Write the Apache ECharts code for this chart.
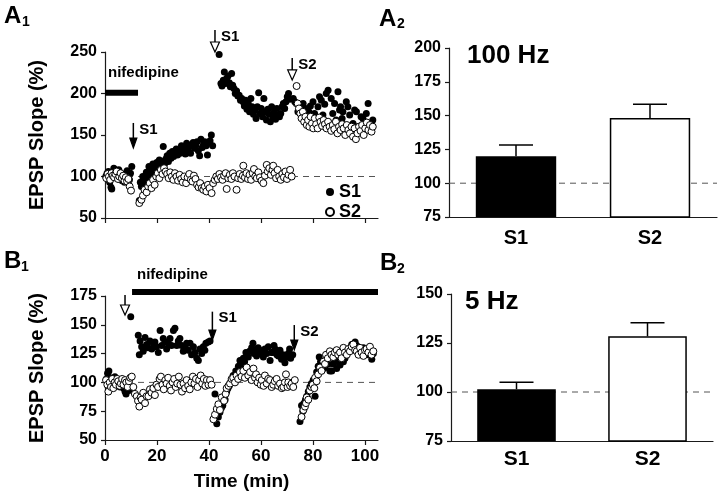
<!DOCTYPE html>
<html><head><meta charset="utf-8">
<script src="https://cdn.jsdelivr.net/npm/echarts@6.0.0/dist/echarts.min.js"></script>
<style>html,body{margin:0;padding:0;background:#fff}#c{width:720px;height:499px}</style>
</head><body><div id="c"></div>
<script>
const FONT = '"Liberation Sans", Arial, Helvetica, sans-serif';

// ---- A1: 100 Hz time course (time min, EPSP slope %) ----
const a1S1 = [
[0.3,100],[0.8,104],[1.3,106],[1.8,93],[2.3,87],[2.6,85],[3.0,99],[3.4,110],[3.8,108],[4.3,103],[4.8,100],[5.3,108],[5.7,97],[6.2,102],[6.6,95],[7.1,99],[7.5,93],[8.0,101],[8.5,107],[8.9,100],[9.4,96],[9.8,104],[10.3,112],
[13.2,71],[13.6,93],[14.0,88],[14.5,100],[15.0,95],[15.4,92],[15.9,105],[16.4,98],[16.9,112],[17.4,104],[17.9,107],[18.4,115],[18.9,110],[19.4,104],[19.9,117],[20.4,112],[20.9,120],[21.5,110],[22.0,118],[22.4,136],[22.9,115],[23.4,121],[23.9,125],[24.4,118],[24.9,128],[25.4,122],[25.9,130],[26.4,124],[26.9,127],[27.4,133],[27.9,126],[28.4,131],[28.9,128],[29.4,137],[29.9,130],[30.4,134],[30.9,127],[31.4,140],[31.9,133],[32.4,136],[32.9,128],[33.4,138],[33.9,141],[34.4,134],[34.9,137],[35.4,142],[35.9,131],[36.4,125],[36.9,145],[37.4,135],[37.9,139],[38.4,142],[38.9,137],[39.4,126],[39.9,140],[40.4,143],[40.9,150],[41.4,137],
[43.9,247],[44.6,212],[45.0,209],[45.5,216],[45.9,226],[46.4,212],[46.8,218],[47.3,221],[47.8,213],[48.2,208],[48.7,224],[49.1,210],[49.6,206],[50.1,200],[50.6,203],[51.1,197],[51.6,198],[52.1,192],[52.6,194],[53.1,190],[53.6,185],[54.1,192],[54.6,181],[55.1,188],[55.6,178],[56.1,194],[56.6,184],[57.1,175],[57.6,180],[58.1,170],[58.6,184],[59.1,201],[59.6,176],[60.1,182],[60.6,172],[61.1,194],[61.6,178],[62.1,168],[62.6,181],[63.1,175],[63.6,166],[64.1,184],[64.6,172],[65.1,178],[65.6,169],[66.1,182],[66.6,174],[67.1,172],[67.6,176],[68.1,184],[68.6,188],[69.1,182],[69.6,190],[70.1,196],[70.6,200],[71.1,193],
[72.4,194],[73.0,190],[73.6,188],[74.2,178],[74.9,186],[75.5,180],[76.2,188],[76.8,176],[77.2,182],[77.8,172],[78.4,178],[79.0,185],[79.4,168],[80.0,190],[80.6,176],[81.3,168],[81.9,184],[82.5,196],[83.2,192],[83.8,174],[84.5,187],[85.1,200],[85.8,204],[86.4,164],[87.0,194],[87.6,176],[88.3,188],[88.9,168],[89.6,202],[90.2,180],[90.6,184],[91.2,170],[91.5,178],[92.2,162],[92.8,190],[93.4,184],[94.1,174],[94.7,158],[95.4,164],[96.0,180],[96.7,178],[97.3,160],[97.9,158],[98.5,172],[99.2,170],[99.9,162],[100.5,176],[101.2,188],[101.8,158],[102.5,162],[103.0,168]
];
const a1S2 = [
[0.5,98],[1.0,103],[1.5,100],[2.0,96],[2.5,104],[3.0,101],[3.5,99],[4.0,103],[4.5,106],[5.0,97],[5.5,100],[6.0,104],[6.5,98],[7.0,101],[7.5,95],[8.0,99],[8.5,94],[9.0,97],[9.5,88],[10.0,83],
[13.2,68],[14.0,72],[14.6,77],[15.2,84],[16.0,81],[16.6,88],[17.2,92],[17.9,86],[18.5,96],[19.1,90],[19.7,100],[20.3,104],[20.9,98],[21.5,108],[22.1,103],[22.7,110],[23.3,106],[23.9,103],[24.5,98],[25.1,105],[25.7,100],[26.3,96],[26.9,104],[27.5,100],[28.1,95],[28.7,102],[29.3,97],[29.9,93],[30.5,100],[31.2,92],[31.8,99],[32.4,103],[33.0,96],[33.6,94],[34.2,101],[34.8,97],[35.4,90],[36.0,87],[36.6,92],[37.2,86],[37.8,84],[38.4,88],[39.0,82],[39.6,90],[40.2,86],[41.0,80],[41.6,92],[42.2,96],[42.8,100],[43.4,97],[44.0,103],[44.6,99],[45.2,96],[45.8,101],[46.4,104],[46.8,85],[47.4,98],[48.0,102],[48.6,97],[49.2,104],[49.8,100],[50.6,84],[51.2,98],[51.8,103],[52.4,97],[53.0,101],[53.2,113],[53.8,99],[54.4,104],[55.0,97],[55.6,102],[56.2,96],[56.8,104],[57.3,109],[57.8,100],[58.4,98],[59.0,105],[59.6,99],[60.2,95],[60.9,92],[61.5,101],[62.2,114],[62.6,106],[63.2,110],[63.8,102],[64.4,108],[64.7,113],[65.2,104],[65.8,98],[66.4,108],[67.0,100],[67.6,96],[68.2,103],[68.8,99],[69.4,106],[70.0,97],[70.6,102],[71.2,108],[71.8,100],
[73.7,209],[74.1,188],[74.6,182],[75.1,176],[75.6,170],[76.1,178],[76.6,166],[77.1,172],[77.6,162],[78.1,168],[78.6,160],[79.1,172],[79.6,164],[80.1,158],[80.7,170],[81.2,163],[81.8,158],[82.4,171],[82.9,166],[83.5,161],[84.1,168],[84.6,163],[85.2,158],[85.8,166],[86.4,160],[87.0,155],[87.6,162],[88.2,157],[88.8,166],[89.4,152],[90.0,160],[90.6,156],[91.2,163],[91.8,158],[92.4,150],[93.0,162],[93.6,156],[94.2,152],[94.8,160],[95.4,148],[96.0,158],[96.5,145],[97.1,152],[97.7,160],[98.3,155],[98.9,162],[99.5,150],[100.1,158],[100.7,165],[101.3,156],[101.9,162],[102.5,154],[103.0,160]
];

// ---- B1: 5 Hz time course ----
const b1S1 = [
[0.5,103],[1.0,108],[1.5,110],[2.0,104],[2.5,99],[2.9,98],[3.3,102],[3.8,105],[4.3,97],[4.8,100],[5.2,99],[5.8,96],[6.3,100],[6.8,97],[7.2,95],[7.7,92],[8.1,90],[8.6,96],[9.2,93],
[9.9,157],
[12.8,141],[13.2,124],[13.5,136],[14.1,131],[14.7,127],[15.4,139],[16.0,133],[16.6,130],[17.3,136],[18.0,129],[18.6,134],[19.2,135],[19.8,131],[20.5,126],[21.2,145],[21.8,132],[22.4,138],[23.1,135],[23.7,129],[24.3,134],[25.0,138],[25.6,132],[26.3,145],[26.9,147],[27.6,132],[28.2,136],[28.8,138],[29.5,132],[30.1,127],[30.8,130],[31.4,134],[32.0,128],[32.7,134],[33.3,124],[34.0,131],[34.6,126],[35.3,121],[35.9,119],[36.5,129],[37.2,125],[37.8,131],[38.4,128],[38.8,134],[39.7,135],[40.4,136],
[42.3,90],[43.0,64],[43.6,70],[44.2,74],[44.8,78],[45.3,80],[45.8,86],[46.2,85],[46.8,92],[47.3,95],[47.8,97],[48.3,100],[48.7,102],[49.3,106],[49.8,104],[50.3,110],[50.6,109],[51.3,114],[51.9,119],[52.5,116],[53.2,121],[53.7,118],[54.2,126],[54.7,123],[55.1,122],[55.6,127],[56.4,130],[56.9,134],[57.3,125],[57.8,128],[58.3,123],[58.9,130],[59.6,128],[60.2,125],[60.9,122],[61.5,129],[62.2,125],[62.8,131],[63.5,119],[64.0,126],[64.5,126],[65.0,132],[65.4,129],[66.1,124],[66.7,123],[67.3,128],[67.9,120],[68.5,124],[69.2,117],[69.8,122],[70.5,125],[71.0,129],[71.4,121],[72.2,124],
[75.0,66],[75.6,80],[76.1,75],[76.5,82],[77.1,85],[77.6,88],[78.2,92],[78.8,96],[79.4,99],[80.1,102],[80.8,88],[81.4,109],[82.0,114],[82.4,122],[82.9,118],[83.3,115],[84.0,112],[84.6,113],[85.2,117],[85.9,116],[86.5,110],[87.2,110],[87.8,116],[88.4,118],[89.1,112],[89.7,119],[90.4,115],[91.0,124],[91.7,118],[92.3,121],[92.9,126],[93.6,127],[94.2,129],[94.9,133],[95.5,129],[96.2,135],[96.8,132],[97.4,130],[98.1,128],[98.7,126],[99.4,130],[100.0,125],[100.6,129],[101.3,124],[101.9,127],[102.6,120],[103.2,125]
];
const b1S2 = [
[0.4,102],[0.9,98],[1.3,92],[1.8,100],[2.3,96],[2.8,103],[3.2,95],[3.7,100],[4.2,98],[4.7,103],[5.1,101],[5.6,97],[6.1,99],[6.6,103],[7.1,98],[7.7,102],[8.2,100],[8.7,96],[9.2,101],[9.7,104],[10.3,105],[10.9,96],
[11.5,90],[12.2,88],[12.7,84],[13.2,79],[13.7,87],[14.1,85],[14.7,91],[15.4,82],[16.0,88],[16.7,88],[17.3,94],[17.9,91],[18.6,95],[19.2,89],[19.8,98],
[20.4,96],[21.0,103],[21.5,105],[22.1,98],[22.6,94],[23.2,102],[23.7,99],[24.3,104],[24.9,97],[25.4,93],[26.0,100],[26.6,103],[27.2,96],[27.8,99],[28.4,105],[29.0,98],[29.6,92],[30.2,99],[30.8,95],[31.4,102],[32.0,97],[32.6,94],[33.2,100],[33.8,105],[34.4,99],[35.0,103],[35.6,96],[36.2,102],[36.8,106],[37.4,99],[38.0,103],[38.6,97],[39.2,102],[39.8,98],[40.4,102],[41.0,98],
[41.7,68],[42.3,72],[43.0,77],[43.6,81],[44.2,76],[44.9,87],[45.8,84],[46.4,90],[46.8,95],[47.5,97],[48.1,99],[48.7,103],[49.3,104],[50.0,100],[50.6,106],[51.2,103],[51.9,109],[52.5,105],[53.2,110],[53.8,104],[54.5,113],[55.1,106],[55.8,109],[56.4,102],[57.1,112],[57.7,104],[58.1,107],[58.7,100],[59.3,104],[59.9,98],[60.3,102],[61.0,97],[61.5,106],[62.2,99],[62.8,103],[63.5,102],[64.1,96],[64.7,98],[65.3,101],[66.0,103],[66.6,97],[67.3,99],[68.0,95],[68.6,96],[69.2,100],[69.6,107],[70.2,96],[70.5,100],[71.2,97],[71.8,99],[72.4,96],[73.0,102],
[75.6,70],[76.3,76],[76.9,79],[77.3,82],[77.6,87],[78.2,85],[78.8,93],[79.4,96],[79.9,98],[80.5,95],[80.8,104],[81.4,101],[82.0,107],[82.7,113],[83.3,110],[84.0,118],[84.6,116],[85.0,124],[85.7,121],[86.5,127],[87.1,124],[87.8,122],[88.4,126],[89.1,128],[89.7,124],[90.4,126],[91.0,121],[91.7,130],[92.3,126],[93.0,124],[93.6,129],[94.2,127],[94.9,131],[95.5,133],[96.2,128],[96.8,127],[97.5,124],[98.1,130],[98.7,126],[99.4,123],[100.0,128],[100.6,129],[101.3,126],[101.9,131],[102.5,124],[103.2,127]
];

// nifedipine application bars [time, level]
const a1Nif = [[0,201],[12.7,201]];
const b1Nif = [[10.4,178.5],[105,178.5]];

// stimulus arrows: [time, arrow top, arrow tip, filled(1)/open(0)]
const a1Arrows = [[10.9,164.5,134.3,1],[42.3,276.5,250,0],[72,242.8,216.3,0]];
const a1ArrowLabels = ['S1','S1','S2'];
const b1Arrows = [[7.7,175.9,158.5,0],[41.3,161.4,136.8,1],[72.8,149.8,128.1,1]];
const b1ArrowLabels = ['','S1','S2'];

// ---- summary bars ----
const barCats = ['S1','S2'];
const a2Means = [120, 148.2];
const a2ErrTop = [128.3, 158.4];
const b2Means = [101.4, 128.4];
const b2ErrTop = [105, 135.3];

const timeTicks = [0,20,40,60,80,100];

const chart = echarts.init(document.getElementById('c'));

const axLine = {show:true, onZero:false, lineStyle:{color:'#1a1a1a', width:1.2}};
const axTick = {show:true, length:4, lineStyle:{color:'#1a1a1a', width:1.2}};
const labelStyle = {color:'#000', fontWeight:'bold', fontSize:16, fontFamily:FONT};

function yAx(grid, min, max, interval, name) {
  return {type:'value', gridIndex:grid, min, max, interval,
    axisLine:axLine, axisTick:axTick, splitLine:{show:false},
    axisLabel:Object.assign({margin:8}, labelStyle),
    name: name || '', nameLocation:'middle', nameRotate:90, nameGap:58,
    nameTextStyle:{color:'#000', fontWeight:'bold', fontSize:20, fontFamily:FONT}};
}

function arrowRender(labels) {
  return function(params, api) {
    const x = api.value(0), t = api.value(1), b = api.value(2), filled = api.value(3);
    const p1 = api.coord([x, t]), p2 = api.coord([x, b]);
    const hh = 10, hw = filled ? 3.5 : 4.5;
    const ch = [
      {type:'line', shape:{x1:p1[0], y1:p1[1], x2:p2[0], y2:p2[1]-hh+1}, style:{stroke:'#000', lineWidth:1.5}},
      {type:'polygon', shape:{points:[[p2[0]-hw, p2[1]-hh],[p2[0]+hw, p2[1]-hh],[p2[0], p2[1]]]},
        style:{fill: filled ? '#000' : '#fff', stroke:'#000', lineWidth:1.2}}
    ];
    const lab = labels[params.dataIndex];
    if (lab) ch.push({type:'text', x:p1[0]+6, y:p1[1]-1,
      style:{text:lab, font:'bold 15px ' + FONT, fill:'#000', verticalAlign:'top', align:'left'}});
    return {type:'group', children:ch};
  };
}

function errRender(params, api) {
  const c = api.value(0);
  const top = api.coord([c, api.value(2)]);
  const base = api.coord([c, api.value(1)]);
  return {type:'group', children:[
    {type:'line', shape:{x1:top[0], y1:top[1], x2:base[0], y2:base[1]}, style:{stroke:'#000', lineWidth:1.5}},
    {type:'line', shape:{x1:top[0]-17, y1:top[1], x2:top[0]+17, y2:top[1]}, style:{stroke:'#000', lineWidth:1.5}}
  ]};
}

const dashStyle = {color:'#555', width:1, type:[6,5]};
const filledStyle = {color:'#000', opacity:1};
const openStyle = {color:'#fff', borderColor:'#000', borderWidth:1, opacity:1};

const txt = (text, left, top, size) => ({type:'text', left, top,
  style:{text, font:'bold ' + size + 'px ' + FONT, fill:'#000'}});

chart.setOption({
  animation:false,
  backgroundColor:'#fff',
  grid:[
    {left:105, top:52, width:273, height:166, outerBoundsMode:'none'},
    {left:449, top:48, width:268, height:169, outerBoundsMode:'none'},
    {left:105, top:296, width:273, height:144, outerBoundsMode:'none'},
    {left:451, top:294, width:262, height:147, outerBoundsMode:'none'}
  ],
  xAxis:[
    {type:'value', gridIndex:0, min:0, max:105, axisLine:axLine,
      axisTick:Object.assign({customValues:timeTicks}, axTick, {length:5}),
      axisLabel:{show:false}, splitLine:{show:false}},
    {type:'category', gridIndex:1, data:barCats, axisLine:axLine, axisTick:{show:false},
      axisLabel:Object.assign({}, labelStyle, {fontSize:20, margin:11})},
    {type:'value', gridIndex:2, min:0, max:105, axisLine:axLine,
      axisTick:Object.assign({customValues:timeTicks}, axTick, {length:5}),
      axisLabel:Object.assign({customValues:timeTicks, margin:8}, labelStyle, {fontSize:17}),
      splitLine:{show:false},
      name:'Time (min)', nameLocation:'middle', nameGap:32,
      nameTextStyle:{color:'#000', fontWeight:'bold', fontSize:19, fontFamily:FONT}},
    {type:'category', gridIndex:3, data:barCats, axisLine:axLine, axisTick:{show:false},
      axisLabel:Object.assign({}, labelStyle, {fontSize:21, margin:8})},
    {type:'value', gridIndex:1, min:0, max:1, show:false},
    {type:'value', gridIndex:3, min:0, max:1, show:false}
  ],
  yAxis:[
    yAx(0, 50, 250, 50, 'EPSP Slope (%)'),
    yAx(1, 75, 200, 25),
    yAx(2, 50, 175, 25, 'EPSP Slope (%)'),
    yAx(3, 75, 150, 25)
  ],
  legend:{left:320, top:178, orient:'vertical', itemWidth:8, itemHeight:8, itemGap:2,
    selectedMode:false, data:['S1','S2'],
    textStyle:{color:'#000', fontSize:18, fontWeight:'bold', fontFamily:FONT}},
  graphic:[
    txt('A', 4, 4, 24), txt('1', 22, 15, 14),
    txt('A', 379, 7, 24), txt('2', 397, 17, 14),
    txt('B', 4, 249, 24), txt('1', 21, 260, 14),
    txt('B', 380, 251, 24), txt('2', 397, 262, 14),
    txt('100 Hz', 467, 43, 26),
    txt('5 Hz', 465, 289, 26),
    txt('nifedipine', 108, 65, 15),
    txt('nifedipine', 137, 267, 15)
  ],
  series:[
    // A1
    {type:'line', xAxisIndex:0, yAxisIndex:0, data:[[0,100],[105,100]], symbol:'none', lineStyle:dashStyle, z:1, silent:true},
    {type:'line', xAxisIndex:0, yAxisIndex:0, data:a1Nif, symbol:'none', lineStyle:{color:'#000', width:6}, z:2, clip:false},
    {name:'S1', type:'scatter', xAxisIndex:0, yAxisIndex:0, data:a1S1, symbolSize:7, itemStyle:filledStyle, z:3},
    {name:'S2', type:'scatter', xAxisIndex:0, yAxisIndex:0, data:a1S2, symbolSize:7, itemStyle:openStyle, z:3},
    {type:'custom', xAxisIndex:0, yAxisIndex:0, data:a1Arrows, renderItem:arrowRender(a1ArrowLabels), clip:false, z:4},
    // B1
    {type:'line', xAxisIndex:2, yAxisIndex:2, data:[[0,100],[105,100]], symbol:'none', lineStyle:dashStyle, z:1, silent:true},
    {type:'line', xAxisIndex:2, yAxisIndex:2, data:b1Nif, symbol:'none', lineStyle:{color:'#000', width:6}, z:2, clip:false},
    {name:'S1', type:'scatter', xAxisIndex:2, yAxisIndex:2, data:b1S1, symbolSize:7, itemStyle:filledStyle, z:3},
    {name:'S2', type:'scatter', xAxisIndex:2, yAxisIndex:2, data:b1S2, symbolSize:7, itemStyle:openStyle, z:3},
    {type:'custom', xAxisIndex:2, yAxisIndex:2, data:b1Arrows, renderItem:arrowRender(b1ArrowLabels), clip:false, z:4},
    // A2
    {type:'line', xAxisIndex:4, yAxisIndex:1, data:[[0,100],[1,100]], symbol:'none', lineStyle:dashStyle, z:1, silent:true},
    {type:'bar', xAxisIndex:1, yAxisIndex:1, barWidth:'60%', z:2,
      data:[{value:a2Means[0], itemStyle:{color:'#000'}}, {value:a2Means[1], itemStyle:{color:'#fff', borderColor:'#000', borderWidth:1.5}}]},
    {type:'custom', xAxisIndex:1, yAxisIndex:1, z:3, renderItem:errRender,
      data:barCats.map((c,i)=>[i, a2Means[i], a2ErrTop[i]])},
    // B2
    {type:'line', xAxisIndex:5, yAxisIndex:3, data:[[0,100],[1,100]], symbol:'none', lineStyle:dashStyle, z:1, silent:true},
    {type:'bar', xAxisIndex:3, yAxisIndex:3, barWidth:'60%', z:2,
      data:[{value:b2Means[0], itemStyle:{color:'#000'}}, {value:b2Means[1], itemStyle:{color:'#fff', borderColor:'#000', borderWidth:1.5}}]},
    {type:'custom', xAxisIndex:3, yAxisIndex:3, z:3, renderItem:errRender,
      data:barCats.map((c,i)=>[i, b2Means[i], b2ErrTop[i]])}
  ]
});
</script>
</body></html>
